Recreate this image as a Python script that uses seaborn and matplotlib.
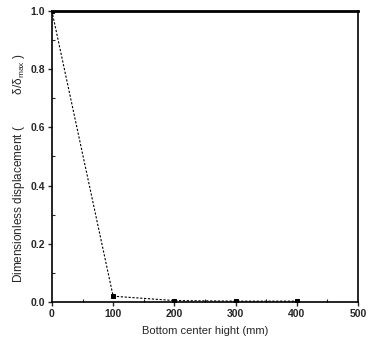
import matplotlib
matplotlib.use("Agg")
import matplotlib.pyplot as plt
import seaborn as sns
import pandas as pd
from matplotlib.ticker import MultipleLocator

heights = [0, 100, 200, 300, 400]
displacement = [1.0, 0.02, 0.005, 0.003, 0.003]
xticks = [0, 100, 200, 300, 400, 500]
yticks = [0.0, 0.2, 0.4, 0.6, 0.8, 1.0]

sns.set_style("ticks")
plt.rcParams['font.family'] = ['Liberation Sans', 'DejaVu Sans']
plt.rcParams['mathtext.default'] = 'regular'

df = pd.DataFrame({"h": heights, "d": displacement})

fig = plt.figure(figsize=(3.68, 3.52), dpi=100)
ax = fig.add_axes([0.141, 0.142, 0.832, 0.827])
sns.lineplot(data=df, x="h", y="d", ax=ax, color="black", linestyle=(0, (2, 1.5)),
             linewidth=0.8, marker="s", markersize=3, markeredgecolor="black")

ax.set_xlim(0, 500)
ax.set_ylim(0, 1.0)
ax.set_xticks(xticks)
ax.set_yticks(yticks)
ax.set_xticklabels([str(v) for v in xticks], fontsize=7.5, fontweight="bold")
ax.set_yticklabels([f"{v:.1f}" for v in yticks], fontsize=7.5, fontweight="bold")
ax.yaxis.set_minor_locator(MultipleLocator(0.1))
ax.xaxis.set_minor_locator(MultipleLocator(50))
ax.tick_params(which="major", direction="out", length=3, width=1, pad=2)
ax.tick_params(which="minor", direction="in", length=2, width=0.8)
for s in ["left", "bottom", "right"]:
    ax.spines[s].set_linewidth(1.2)
    ax.spines[s].set_color("black")
ax.spines["top"].set_linewidth(2)
ax.spines["top"].set_color("black")
ax.set_xlabel("Bottom center hight (mm)", fontsize=8, labelpad=5)
ax.set_ylabel("Dimensionless displacement (          δ/δ$_{max}$ )", fontsize=8.5)
ax.yaxis.set_label_coords(-0.08, 0.46)

fig.savefig("out.png", dpi=100)
